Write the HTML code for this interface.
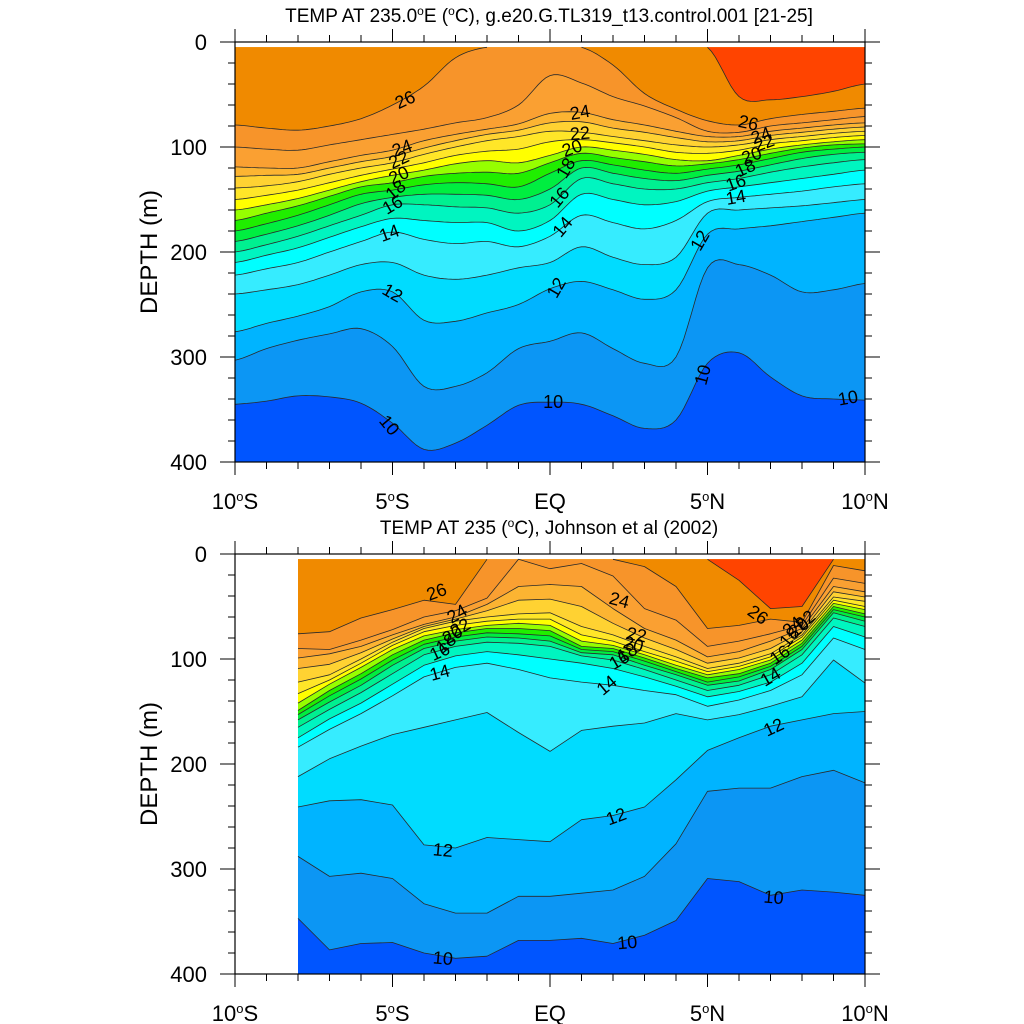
<!DOCTYPE html>
<html><head><meta charset="utf-8"><title>TEMP sections</title>
<style>html,body{margin:0;padding:0;background:#fff}svg{display:block}text{font-family:"Liberation Sans",Arial,sans-serif}</style>
</head><body>
<svg id="chart" xmlns="http://www.w3.org/2000/svg" width="1024" height="1024" viewBox="0 0 1024 1024"></svg>
<script>
// ---- data ----
const levels=[10,11,12,13,14,15,16,17,18,19,20,21,22,23,24,25,26,27];
const bandColors=["#0c96f4","#00b4ff","#00dcff","#36ecff","#00ffff","#00f5c0","#00f090","#00ee40","#20ee00","#96ff00","#ffff00","#ffe628","#ffd232","#fcb432","#faa032","#f7942a","#f08a00","#ff4400"];
const topLats=[-10,-9,-8,-7,-6,-5,-4,-3,-2,-1,0,1,2,3,4,5,6,7,8,9,10];
const topD10=[345,342,337,338,344,363,388,382,365,346,343,345,356,368,360,306,296,319,337,340,341];
const topD11=[303,292,284,278,273,290,328,328,315,292,285,277,292,306,300,215,212,222,238,236,230];
const topD12=[276,268,261,252,238,238,265,266,258,250,235,228,236,245,236,183,178,175,171,167,163];
const topD13=[240,236,231,222,212,210,222,226,222,215,210,195,205,212,205,163,160,158,156,153,150];
const topD14=[222,216,210,200,190,181,188,192,190,195,185,165,172,178,170,152,148,145,142,138,135];
const topD15=[210,203,196,186,176,168,170,172,172,180,170,145,150,155,152,142,138,134,130,126,122];
const topD16=[200,193,185,175,165,155,155,157,158,163,155,130,135,140,140,134,130,124,119,115,112];
const topD17=[190,183,175,165,154,148,145,145,146,150,140,120,125,130,132,127,123,117,111,107,105];
const topD18=[180,173,165,155,145,141,136,134,135,138,125,113,117,122,125,121,117,111,105,102,100];
const topD19=[170,163,156,147,138,134,128,125,124,125,115,106,110,114,118,116,112,106,101,98,97];
const topD20=[160,155,149,141,133,127,122,116,113,115,108,100,103,107,112,113,108,102,98,95,93];
const topD21=[150,146,141,134,127,121,115,108,104,102,95,93,96,100,105,106,103,97,94,91,89];
const topD22=[139,137,133,126,120,115,107,100,94,90,85,86,90,94,98,100,98,93,90,87,85];
const topD23=[128,127,126,120,114,109,101,94,88,84,77,76,82,86,91,95,94,89,86,83,81];
const topD24=[119,120,120,114,108,103,94,88,83,78,68,67,74,79,85,90,90,85,82,79,77];
const topD25=[100,102,103,98,93,88,83,77,72,60,32,39,52,61,72,85,86,80,77,74,71];
const topD26=[79,82,84,80,73,60,42,15,5,5,5,5,22,49,64,75,79,73,69,66,63];
const topD27=[5,5,5,5,5,5,5,5,5,5,5,5,5,5,5,5,52,55,52,47,40];
const topRows=[topD10,topD11,topD12,topD13,topD14,topD15,topD16,topD17,topD18,topD19,topD20,topD21,topD22,topD23,topD24,topD25,topD26,topD27];

const botLats=[-8,-7,-6,-5,-4,-3,-2,-1,0,1,2,3,4,5,6,7,8,9,10];
const botD10=[347,377,371,370,380,385,383,368,368,366,371,363,349,309,312,325,320,322,325];
const botD11=[288,307,304,309,333,342,342,326,326,323,320,307,276,226,223,223,212,206,218];
const botD12=[241,235,234,239,277,280,270,272,274,253,249,241,215,187,175,164,158,152,150];
const botD13=[212,195,183,172,165,158,151,170,188,168,164,161,152,158,153,145,136,101,123];
const botD14=[184,167,152,135,117,108,104,110,118,122,125,130,134,145,139,130,115,80,91];
const botD15=[175,157,142,124,106,97,93,96,100,104,109,117,126,136,131,122,104,69,79];
const botD16=[165,148,132,114,96,88,84,85,88,97,101,110,120,130,125,115,96,61,69];
const botD17=[158,141,125,106,90,83,79,80,83,94,96,106,115,125,121,110,91,56,64];
const botD18=[153,135,119,101,86,79,75,76,78,91,93,102,112,122,117,107,88,53,60];
const botD19=[149,130,114,96,82,75,71,71,73,88,90,99,109,118,114,104,85,50,57];
const botD20=[142,124,108,91,78,72,68,66,68,83,87,96,106,115,110,101,82,47,53];
const botD21=[133,120,104,87,74,68,64,62,62,77,83,93,102,112,107,98,79,44,50];
const botD22=[122,115,100,84,71,64,60,57,56,69,77,88,98,109,104,95,77,41,45];
const botD23=[109,105,94,81,69,62,54,44,43,50,66,80,91,104,99,90,74,36,41];
const botD24=[99,95,88,77,67,60,48,31,29,31,52,71,82,98,93,83,71,31,36];
const botD25=[90,91,82,72,60,54,42,5,14,9,21,52,63,88,83,76,68,23,28];
const botD26=[76,74,61,53,44,48,5,5,5,5,5,12,31,71,68,62,65,11,16];
const botD27=[5,5,5,5,5,5,5,5,5,5,5,5,5,5,25,52,50,5,5];
const botRows=[botD10,botD11,botD12,botD13,botD14,botD15,botD16,botD17,botD18,botD19,botD20,botD21,botD22,botD23,botD24,botD25,botD26,botD27];

// contour labels: text, lat, depth, angle
const topLabelText=["26","24","22","20","18","16","14","12","10","10","12","14","16","18","20","22","24","26","24","22","20","18","16","14","12","10","10"];
const topLabelLat=[-4.6,-4.7,-4.8,-4.8,-4.9,-5.0,-5.1,-5.0,-5.1,0.1,0.2,0.4,0.3,0.5,0.7,0.95,0.95,6.3,6.7,6.8,6.4,6.2,5.9,5.9,4.76,4.85,9.46];
const topLabelDep=[55,101,112,127,141,155,182,239,365,343,234,176,148,120,101,87,67,77,89,96,108,120,134,148,189,317,339];
const topLabelAng=[-25,-20,-25,-25,-40,-30,-20,30,50,0,-60,-50,-50,-60,-20,-5,-10,12,-20,-20,-20,-25,-20,-10,-60,-75,-10];
const botLabelText=["26","24","22","20","18","16","14","12","10","24","22","20","18","16","14","12","10","26","24","22","20","18","16","14","12","10"];
const botLabelLat=[-3.6,-2.95,-2.85,-3.1,-3.3,-3.5,-3.5,-3.4,-3.4,2.2,2.75,2.65,2.45,2.2,1.8,2.1,2.45,6.6,7.7,8.1,7.9,7.6,7.3,7.0,7.1,7.1];
const botLabelDep=[36,57,70,77,85,93,113,282,385,44,77,86,94,101,125,250,370,58,69,63,70,79,96,117,165,327];
const botLabelAng=[-20,-30,-30,-30,-40,-25,-15,5,5,15,10,15,-30,-30,-40,-20,-5,35,-40,-40,-40,-50,-35,-30,-25,5];

// ---- rendering ----
const NS="http://www.w3.org/2000/svg";
const svg=document.getElementById('chart');
function mk(tag,attrs,parent){const e=document.createElementNS(NS,tag);for(const k in attrs)e.setAttribute(k,attrs[k]);(parent||svg).appendChild(e);return e;}
const X0=235,X1=865,PX=31.5;
function xs(lat){return X0+(lat+10)*PX;}
function ysFor(y0){return function(d){return y0+d*1.05;};}

// returns list of [lat, depth] points, optionally Catmull-Rom smoothed
function curve(lats,row,smooth){
  const pts=[];
  for(let j=0;j<row.length-1;j++){
    const p0=row[Math.max(j-1,0)],p1=row[j],p2=row[j+1],p3=row[Math.min(j+2,row.length-1)];
    const n=smooth?8:1;
    for(let s=0;s<n;s++){
      const t=s/n;
      let d=p1;
      if(smooth){
        if(p1<=5&&p2<=5) d=5;
        else d=0.5*((2*p1)+(-p0+p2)*t+(2*p0-5*p1+4*p2-p3)*t*t+(-p0+3*p1-3*p2+p3)*t*t*t);
      }
      pts.push([lats[j]+(lats[j+1]-lats[j])*t,Math.max(d,5)]);
    }
  }
  pts.push([lats[lats.length-1],Math.max(row[row.length-1],5)]);
  return pts;
}

function drawPanel(name,y0,lats,rows,lt,la,ld,lang,title,smooth){
  const ys=ysFor(y0);
  const g=mk('g',{});
  
  
  const xa=xs(lats[0]),xb=xs(lats[lats.length-1]);
  const bg=mk('rect',{x:xa,y:ys(5),width:xb-xa,height:ys(400)-ys(5),fill:'#0055ff'},g);
  
  
  const curves=rows.map(function(row){return curve(lats,row,smooth);});
  curves.forEach(function(pts,i){
    let p='M'+xa+','+ys(5);
    pts.forEach(function(q){p+=' L'+xs(q[0]).toFixed(1)+','+ys(q[1]).toFixed(1);});
    p+=' L'+xb+','+ys(5)+' Z';
    const e=mk('path',{d:p,fill:bandColors[i],stroke:'none'},g);
    
    
  });
  curves.forEach(function(pts,i){
    let p='';let pen=false;
    for(let j=0;j<pts.length-1;j++){
      if(pts[j][1]<=5.01&&pts[j+1][1]<=5.01){pen=false;continue;}
      if(!pen){p+='M'+xs(pts[j][0]).toFixed(1)+','+ys(pts[j][1]).toFixed(1);pen=true;}
      p+=' L'+xs(pts[j+1][0]).toFixed(1)+','+ys(pts[j+1][1]).toFixed(1);
    }
    if(p){const e=mk('path',{d:p,fill:'none',stroke:'#2a2a2a','stroke-width':0.8,'stroke-linejoin':'round'},g);
      
      }
  });
  lt.forEach(function(t,k){
    const cx=xs(la[k]),cy=ys(ld[k]);
    const e=mk('text',{x:cx,y:cy+6,'font-size':18,'text-anchor':'middle',fill:'#000',transform:'rotate('+lang[k]+' '+cx+' '+cy+')'},g);
    e.textContent=t;
    
    
  });
  const fr=mk('rect',{x:X0,y:y0,width:X1-X0,height:420,fill:'none',stroke:'#000','stroke-width':1.2},g);
  
  
  let tp='';
  for(let lat=-10;lat<=10;lat++){
    const x=xs(lat),L=(lat%5===0)?13:7;
    tp+='M'+x+','+(y0+420)+' v'+L+' M'+x+','+y0+' v'+(-L)+' ';
  }
  for(let d=0;d<=400;d+=20){
    const y=ys(d),L=(d%100===0)?15:7;
    tp+='M'+X0+','+y+' h'+(-L)+' M'+X1+','+y+' h'+L+' ';
  }
  const tk=mk('path',{d:tp,stroke:'#000','stroke-width':1,fill:'none'},g);
  
  
  for(let d=0;d<=400;d+=100){
    const e=mk('text',{x:207,y:ys(d)+8,'font-size':22,'text-anchor':'end'},g);
    e.textContent=String(d);
    
    
  }
  const xl=[[-10,'10','S'],[-5,'5','S'],[0,'EQ',''],[5,'5','N'],[10,'10','N']];
  xl.forEach(function(v){
    const e=mk('text',{x:xs(v[0]),y:y0+467,'font-size':22,'text-anchor':'middle'},g);
    
    
    if(v[2]){
      const a=mk('tspan',{},e);a.textContent=v[1];
      const b=mk('tspan',{dy:-8,'font-size':13},e);b.textContent='o';
      const c=mk('tspan',{dy:8},e);c.textContent=v[2];
    } else e.textContent=v[1];
  });
  const yt=mk('text',{x:0,y:0,'font-size':24,'text-anchor':'middle',transform:'translate(157,'+(y0+210)+') rotate(-90)'},g);
  yt.textContent='DEPTH (m)';
  
  
  const tt=mk('text',{x:549,y:y0-20,'font-size':19,'text-anchor':'middle'},g);
  
  
  title.forEach(function(part){
    const s=mk('tspan',part[1]?{dy:part[1],'font-size':part[2]||19}:{},tt);s.textContent=part[0];
  });
}
drawPanel('model',42,topLats,topRows,topLabelText,topLabelLat,topLabelDep,topLabelAng,
 [['TEMP AT 235.0'],['o',-7,12],['E (',7],['o',-7,12],['C), g.e20.G.TL319_t13.control.001 [21-25]',7]],true);
drawPanel('observed',554,botLats,botRows,botLabelText,botLabelLat,botLabelDep,botLabelAng,
 [['TEMP AT 235 ('],['o',-7,12],['C), Johnson et al (2002)',7]],false);
</script>
</body></html>
